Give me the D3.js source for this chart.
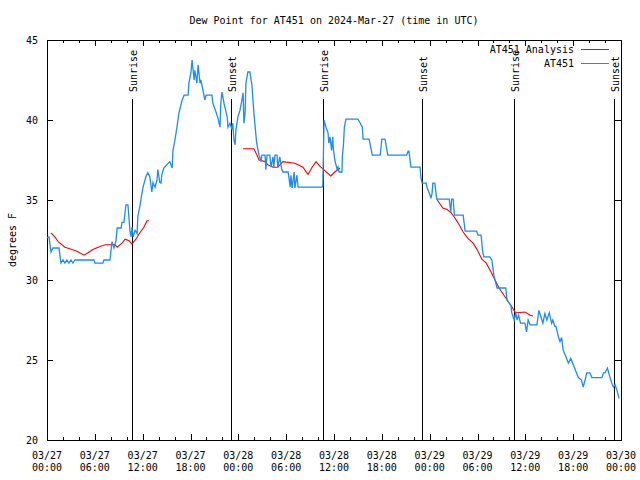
<!DOCTYPE html>
<html>
<head>
<meta charset="utf-8">
<script src="https://cdn.jsdelivr.net/npm/d3@7"></script>
<style>
  html, body { margin: 0; padding: 0; background: #fff; }
  svg { display: block; }
  text { font-family: "DejaVu Sans Mono", "Liberation Mono", monospace; font-size: 10px; fill: #000; }
</style>
</head>
<body>
<svg id="chart" width="640" height="480"></svg>
<script>
// ---------------- data ----------------
const titleText = "Dew Point for AT451 on 2024-Mar-27 (time in UTC)";
const yLabelText = "degrees F";

// hours since 2024-03-27 00:00 UTC
const majorTickHours = [0, 6, 12, 18, 24, 30, 36, 42, 48, 54, 60, 66, 72];
const tickDates = ["03/27", "03/27", "03/27", "03/27", "03/28", "03/28", "03/28", "03/28", "03/29", "03/29", "03/29", "03/29", "03/30"];
const tickTimes = ["00:00", "06:00", "12:00", "18:00", "00:00", "06:00", "12:00", "18:00", "00:00", "06:00", "12:00", "18:00", "00:00"];
const yTicks = [20, 25, 30, 35, 40, 45];

const sunEventHours = [10.65, 23.1, 34.6, 47.05, 58.6, 71.1];
const sunEventNames = ["Sunrise", "Sunset", "Sunrise", "Sunset", "Sunrise", "Sunset"];

const seriesNames = ["AT451 Analysis", "AT451"];

// observed dew point (AT451)
const obsHours = [0, 0.25, 0.5, 0.75, 1.25, 1.5, 1.75, 2.0, 2.25, 2.5, 2.75, 3.0, 3.25, 3.5, 5.9, 6.0, 7.0, 7.15, 7.9,
  8.15, 8.4, 8.65, 8.8, 9.3, 9.4, 9.65, 9.9, 10.15, 10.3, 10.4, 10.55, 10.65, 10.8, 11.05, 11.3, 11.4, 11.65, 11.9,
  12.05, 12.4, 12.65, 12.9, 13.15, 13.3, 13.55, 13.8, 13.9, 14.15, 14.3, 14.4, 14.65, 15.4, 15.7, 15.8, 16.05, 16.3,
  16.55, 16.95, 17.2, 17.7, 17.8, 18.05, 18.2, 18.45, 18.55, 18.8, 18.95, 19.2, 19.3, 19.55, 19.8, 19.95, 20.7, 20.8,
  21.2, 21.45, 21.7, 21.8, 21.95, 22.2, 22.6, 22.7, 22.95, 23.2, 23.3, 23.45, 23.6, 23.7, 23.95, 24.2, 24.45, 24.6,
  24.7, 24.85, 24.95, 25.2, 25.45, 25.7, 25.95, 26.3, 26.6, 26.85, 26.95, 27.35, 27.45, 27.6, 27.95, 28.1, 28.35,
  28.45, 28.6, 28.85, 28.95, 29.2, 29.45, 29.6, 30.25, 30.5, 30.6, 30.75, 31.0, 31.1, 31.35, 31.5, 34.5, 34.6, 34.75,
  34.85, 35.0, 35.25, 35.35, 35.5, 35.7, 35.85, 35.9, 36.1, 36.4, 36.5, 36.65, 37.0, 37.05, 37.2, 37.3, 37.5, 39.0,
  39.3, 39.55, 39.65, 40.4, 40.65, 40.8, 41.8, 42.0, 42.4, 42.75, 45.1, 45.3, 45.4, 45.65, 46.8, 46.9, 47.05, 47.55,
  47.7, 48.05, 48.15, 48.3, 48.4, 48.65, 48.8, 48.9, 50.45, 50.65, 50.75, 50.95, 51.1, 52.2, 52.45, 53.9, 54.05,
  54.45, 54.65, 54.8, 55.55, 55.8, 56.05, 56.45, 57.55, 57.7, 58.2, 58.3, 58.6, 58.8, 58.95, 59.15, 59.4, 59.95,
  60.15, 60.35, 60.6, 61.45, 61.7, 61.95, 62.2, 62.45, 62.7, 63.0, 63.3, 63.45, 63.7, 63.85, 64.15, 64.35, 64.55,
  64.75, 65.1, 65.4, 65.7, 65.95, 66.25, 66.65, 67.05, 67.25, 67.5, 67.7, 68.1, 68.35, 69.6, 69.8, 70.0, 70.3, 70.6,
  70.8, 71.05, 71.25, 71.5, 71.75];
const obsTemps = [32.63, 32.69, 31.75, 32.0, 32.0, 32.0, 31.06, 31.25, 31.06, 31.25, 31.06, 31.25, 31.06, 31.25, 31.25,
  31.06, 31.06, 31.25, 31.25, 32.4, 32.0, 32.45, 33.25, 33.25, 33.6, 33.6, 34.7, 34.7, 33.75, 33.1, 32.7, 33.3, 32.7,
  33.1, 32.9, 34.0, 34.6, 35.4, 35.8, 36.45, 36.7, 36.45, 35.5, 36.1, 35.8, 36.25, 36.9, 36.1, 36.05, 36.55, 37.0,
  37.4, 37.0, 38.1, 38.75, 39.55, 40.45, 41.25, 41.55, 41.55, 42.3, 42.95, 43.75, 42.5, 43.1, 42.3, 43.45, 42.3, 42.5,
  41.9, 41.25, 41.55, 41.55, 41.05, 40.5, 40.1, 39.55, 41.05, 41.75, 41.05, 40.2, 39.55, 39.8, 39.4, 39.8, 38.75,
  38.45, 39.4, 40.2, 40.6, 41.25, 41.7, 39.8, 40.45, 42.3, 43.0, 43.0, 42.2, 40.45, 38.55, 37.8, 37.4, 37.8, 37.8,
  36.9, 37.8, 37.8, 37.05, 37.7, 37.05, 37.8, 37.8, 37.05, 37.7, 36.9, 36.75, 36.75, 35.8, 36.55, 35.75, 36.75, 35.75,
  36.55, 35.8, 35.8, 35.9, 40.0, 39.8, 39.55, 39.2, 38.55, 38.95, 38.1, 38.95, 38.3, 37.5, 36.9, 37.05, 36.75, 36.75,
  37.7, 38.55, 39.55, 40.05, 40.05, 39.8, 39.55, 38.8, 38.8, 38.2, 37.8, 37.8, 38.8, 38.8, 37.8, 37.8, 38.05, 38.05,
  37.05, 37.05, 36.4, 36.05, 36.05, 35.75, 35.3, 35.1, 35.4, 36.05, 36.05, 35.4, 35.05, 35.05, 34.25, 35.05, 35.05,
  34.05, 34.05, 33.05, 33.05, 32.8, 32.8, 31.75, 31.45, 31.45, 31.25, 30.3, 29.5, 29.5, 28.75, 28.4, 27.95, 27.5,
  27.95, 27.5, 27.8, 27.3, 27.3, 26.75, 27.5, 27.2, 27.2, 28.1, 27.7, 27.3, 27.9, 27.5, 27.95, 27.3, 27.5, 27.1, 27.1,
  26.45, 26.15, 26.4, 25.6, 25.2, 24.8, 25.1, 24.8, 24.4, 23.9, 23.75, 23.3, 23.75, 24.2, 24.2, 23.9, 23.9, 24.2,
  24.2, 24.5, 23.95, 23.6, 23.3, 23.45, 23.1, 22.6];

// analysis dew point (null = gap)
const anaHours = [0.5, 0.9, 1.4, 2.25, 3.15, 3.75, 4.65, 5.15, 5.75, 6.65, 7.3, 8.55, 8.8, 9.4, 9.8, 10.3, 10.65,
  11.15, 11.65, 12.15, 12.55, 12.8, null,
  24.6, 25.95, 26.35, 26.6, 27.35, 27.7, 28.35, 28.95, 29.6, 31.1, 32.1, 32.75, 33.25, 33.75, 34.25, 34.6, 35.6,
  36.1, 36.75, null,
  48.9, 49.65, 50.2, 50.7, 51.2, 51.7, 52.2, 52.8, 53.45, 53.95, 54.55, 55.1, 55.7, 56.2, 56.7, 57.45, 57.85, 58.35,
  58.7, 59.05, 59.95, 60.6, 60.95];
const anaTemps = [32.95, 32.75, 32.4, 32.05, 31.9, 31.8, 31.55, 31.7, 31.9, 32.1, 32.2, 32.2, 32.05, 32.3, 32.55,
  32.45, 32.25, 32.55, 32.95, 33.3, 33.7, 33.7, null,
  38.2, 38.2, 37.8, 37.5, 37.4, 37.2, 37.05, 37.05, 37.4, 37.3, 37.05, 36.6, 37.05, 37.4, 37.1, 36.95, 36.5, 36.75,
  37.0, null,
  35.05, 34.5, 34.4, 34.2, 33.85, 33.45, 33.0, 32.6, 32.3, 31.9, 31.3, 31.05, 30.5, 30.0, 29.5, 28.95, 28.65, 28.3,
  28.0, 27.95, 28.0, 27.8, 27.75];

// ---------------- drawing ----------------
const svg = d3.select("#chart");
const L = 47, R = 621, T = 40, B = 440;
const blue = "#1a8cff", red = "#ff0000";

const x = d3.scaleLinear().domain([0, 72]).range([L, R]);
const y = d3.scaleLinear().domain([20, 45]).range([B, T]);

const minorHours = d3.range(0, 73, 2).filter(h => h % 6 !== 0);

// axes (ticks inward, mirrored)
const g = svg.append("g").attr("shape-rendering", "crispEdges");
function styleAxis(sel) {
  sel.select(".domain").remove();
  sel.selectAll("line").attr("stroke", "#000");
}
g.append("g").attr("transform", `translate(0,${B})`)
  .call(d3.axisBottom(x).tickValues(majorTickHours).tickSize(-6).tickFormat("")).call(styleAxis);
g.append("g").attr("transform", `translate(0,${B})`)
  .call(d3.axisBottom(x).tickValues(minorHours).tickSize(-3).tickFormat("")).call(styleAxis);
g.append("g").attr("transform", `translate(0,${T})`)
  .call(d3.axisTop(x).tickValues(majorTickHours).tickSize(-6).tickFormat("")).call(styleAxis);
g.append("g").attr("transform", `translate(0,${T})`)
  .call(d3.axisTop(x).tickValues(minorHours).tickSize(-3).tickFormat("")).call(styleAxis);
const yl = g.append("g").attr("transform", `translate(${L},0)`)
  .call(d3.axisLeft(y).tickValues(yTicks).tickSize(-6).tickPadding(9).tickFormat(d3.format("d")));
yl.call(styleAxis);
yl.selectAll("text").attr("font-family", null).attr("font-size", null).attr("fill", "#000");
g.append("g").attr("transform", `translate(${R},0)`)
  .call(d3.axisRight(y).tickValues(yTicks).tickSize(-6).tickFormat("")).call(styleAxis);

// x tick labels (two lines)
const xl = svg.append("g");
majorTickHours.forEach((h, i) => {
  const t = xl.append("text").attr("text-anchor", "middle");
  t.append("tspan").attr("x", x(h)).attr("y", 458.5).text(tickDates[i]);
  t.append("tspan").attr("x", x(h)).attr("y", 470.5).text(tickTimes[i]);
});

// border
g.append("rect").attr("x", L).attr("y", T).attr("width", R - L).attr("height", B - T)
  .attr("fill", "none").attr("stroke", "#000");

// sunrise / sunset markers
sunEventHours.forEach((h, i) => {
  const xx = Math.round(x(h)) + 0.5;
  g.append("line").attr("x1", xx).attr("x2", xx).attr("y1", 99).attr("y2", B)
    .attr("stroke", "#000");
  svg.append("text").attr("transform", `translate(${xx + 1},92) rotate(-90)`)
    .attr("text-anchor", "start").attr("dominant-baseline", "central").text(sunEventNames[i]);
});

// lines
const line = d3.line().defined((d) => d[1] !== null).x(d => x(d[0])).y(d => y(d[1]));
const anaData = anaHours.map((h, i) => [h, anaTemps[i]]);
const obsData = obsHours.map((h, i) => [h, obsTemps[i]]);
svg.append("path").datum(anaData).attr("d", line).attr("fill", "none")
  .attr("stroke", red).attr("stroke-width", 1.1);
svg.append("path").datum(obsData).attr("d", line).attr("fill", "none")
  .attr("stroke", blue).attr("stroke-width", 1.3);

// legend
const legColors = [red, blue];
const legY = [49, 63];
seriesNames.forEach((n, i) => {
  svg.append("text").attr("x", 574).attr("y", legY[i]).attr("text-anchor", "end")
    .attr("dominant-baseline", "central").text(n);
  svg.append("line").attr("x1", 581).attr("x2", 609).attr("y1", legY[i] + 0.5).attr("y2", legY[i] + 0.5)
    .attr("stroke", legColors[i]).attr("shape-rendering", "crispEdges");
});

// title & y label
svg.append("text").attr("x", (L + R) / 2).attr("y", 20).attr("text-anchor", "middle")
  .attr("dominant-baseline", "central").text(titleText);
svg.append("text").attr("transform", `translate(12,${(T + B) / 2}) rotate(-90)`)
  .attr("text-anchor", "middle").attr("dominant-baseline", "central").text(yLabelText);
</script>
</body>
</html>
